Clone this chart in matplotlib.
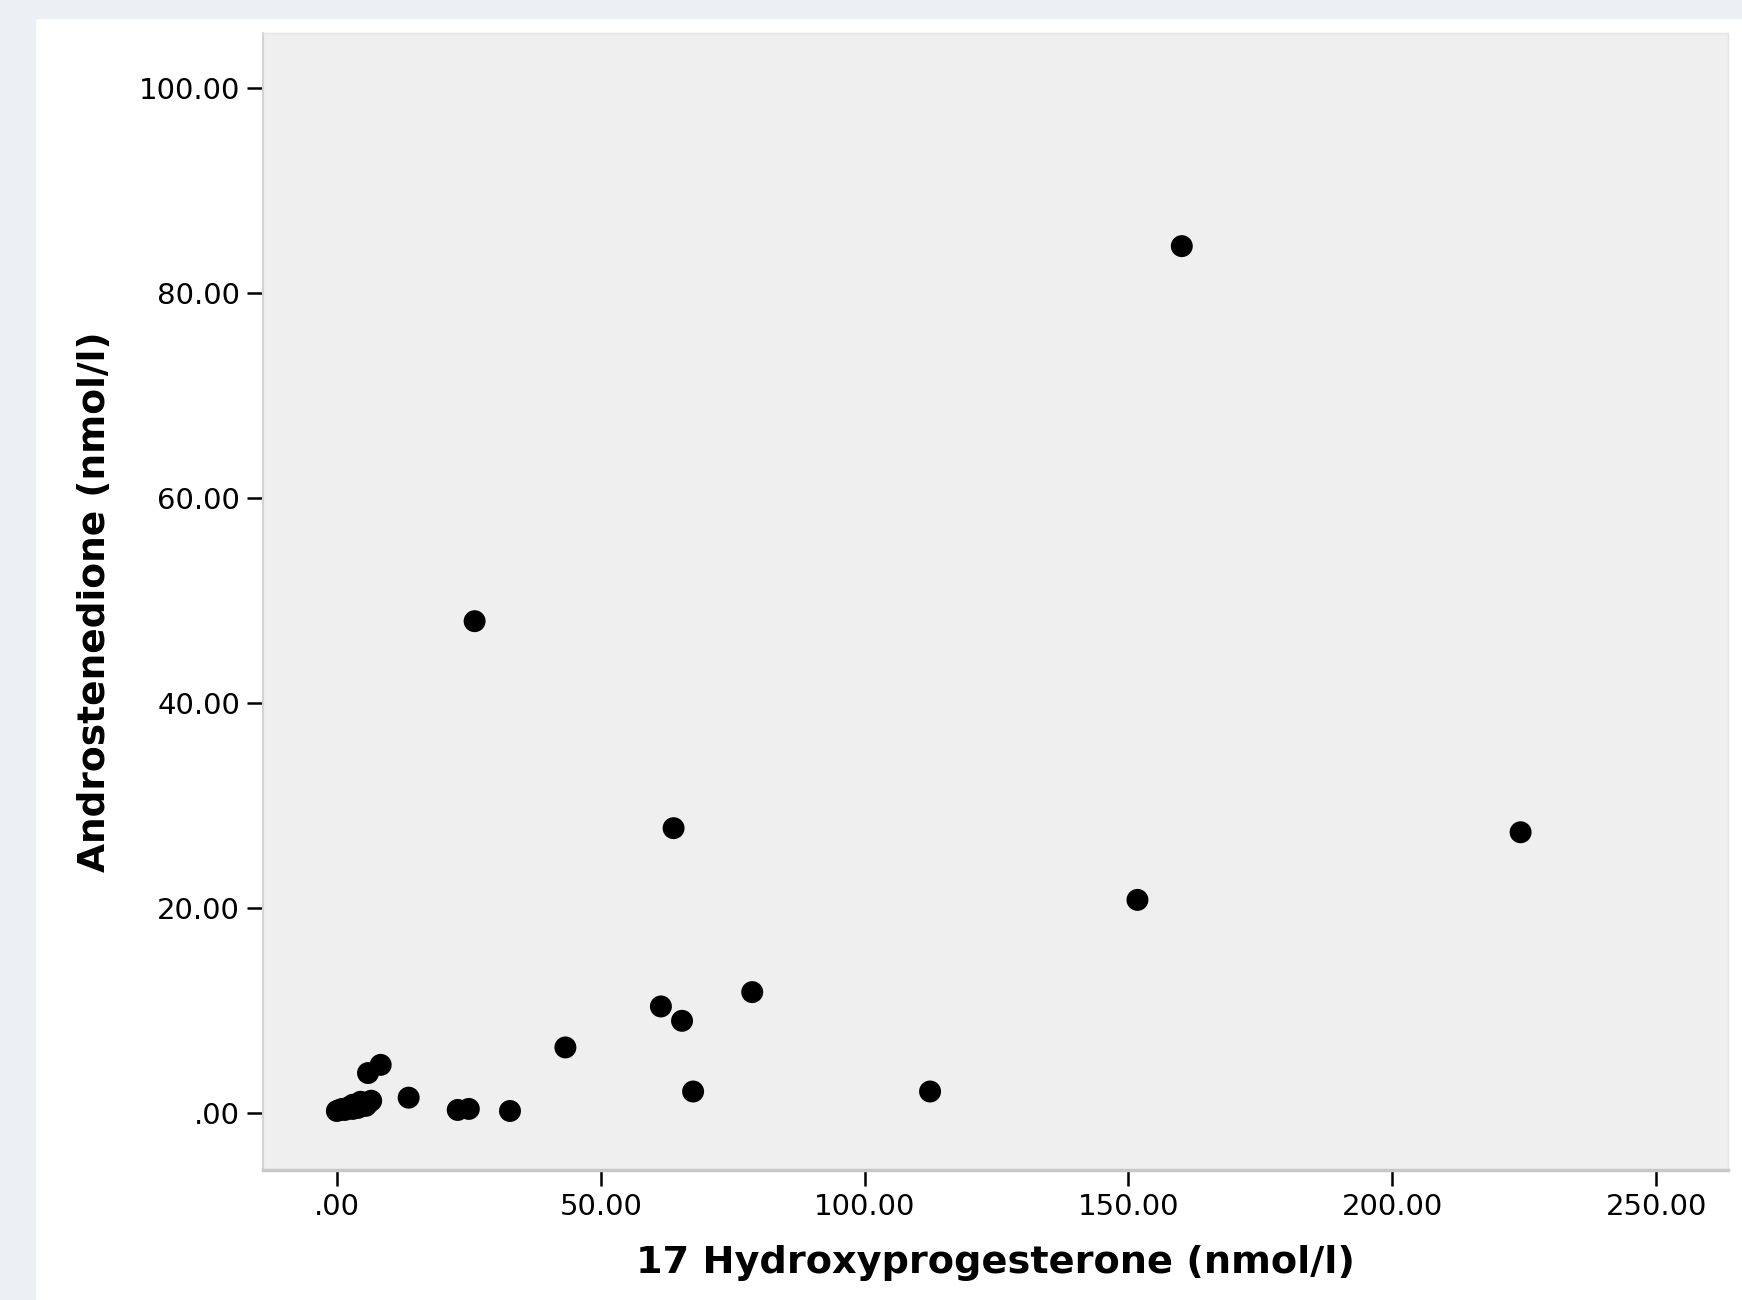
#!/usr/bin/env python3
# Scatter of 17-OHP vs androstenedione, SPSS style
import matplotlib
matplotlib.use("Agg")
import matplotlib.pyplot as plt
from matplotlib.patches import Rectangle
from matplotlib.ticker import FuncFormatter

# data
ohp = [0.0, 0.5, 1.0, 1.5, 2.0, 2.5, 3.0, 3.5, 4.0, 4.5, 5.0, 5.5, 6.0, 6.5, 3.0, 4.5,
       5.9, 8.3, 13.6, 22.9, 25.0, 32.8, 26.1, 43.3, 61.4, 63.8, 65.4, 67.5, 78.7,
       112.4, 151.7, 160.1, 224.3]
andro = [0.2, 0.3, 0.4, 0.3, 0.5, 0.6, 0.4, 0.7, 0.5, 0.8, 0.9, 0.7, 1.0, 1.2, 0.8, 1.1,
         3.9, 4.7, 1.5, 0.3, 0.4, 0.2, 48.0, 6.4, 10.4, 27.8, 9.0, 2.1, 11.8,
         2.1, 20.8, 84.6, 27.4]

x_ticks = [0, 50, 100, 150, 200, 250]
y_ticks = [0, 20, 40, 60, 80, 100]


def fmt(v, pos):
    s = "%.2f" % v
    if s.startswith("0."):
        s = s[1:]
    return s


fig = plt.figure(figsize=(17.42, 13.0), dpi=100)
fig.patch.set_facecolor("white")
# blue-grey frame strips
fig.patches.append(Rectangle((0, 0), 35 / 1742, 1, transform=fig.transFigure,
                             color="#ECEFF4", zorder=0))
fig.patches.append(Rectangle((0, 1 - 18 / 1300), 1, 18 / 1300, transform=fig.transFigure,
                             color="#ECEFF4", zorder=0))

ax = fig.add_axes([263 / 1742, 130 / 1300, (1728 - 263) / 1742, (1170 - 33) / 1300])
ax.set_facecolor("#EFEFEF")
ax.scatter(ohp, andro, s=250, color="black", edgecolors="none", zorder=3)

ax.set_xlim(-14.0, 263.6)
ax.set_ylim(-5.56, 105.4)
ax.set_xticks(x_ticks)
ax.set_yticks(y_ticks)
ax.xaxis.set_major_formatter(FuncFormatter(fmt))
ax.yaxis.set_major_formatter(FuncFormatter(fmt))
ax.tick_params(direction="out", length=11.5, width=1.8, labelsize=21, pad=5)

for side in ["top", "right"]:
    ax.spines[side].set_color("#E4E4E4")
    ax.spines[side].set_linewidth(1)
ax.spines["left"].set_color("#D4D4D4")
ax.spines["left"].set_linewidth(1.5)
ax.spines["bottom"].set_color("#C8C8C8")
ax.spines["bottom"].set_linewidth(2.5)

ax.set_xlabel("17 Hydroxyprogesterone (nmol/l)", fontsize=27.5, fontweight="bold")
ax.set_ylabel("Androstenedione (nmol/l)", fontsize=27, fontweight="bold")
ax.xaxis.set_label_coords(0.5, -0.082)
ax.yaxis.set_label_coords(-0.115, 0.5)
ax.xaxis.label.set_va("center")
ax.yaxis.label.set_va("center")

fig.savefig("out.png", dpi=100)
plt.close(fig)
